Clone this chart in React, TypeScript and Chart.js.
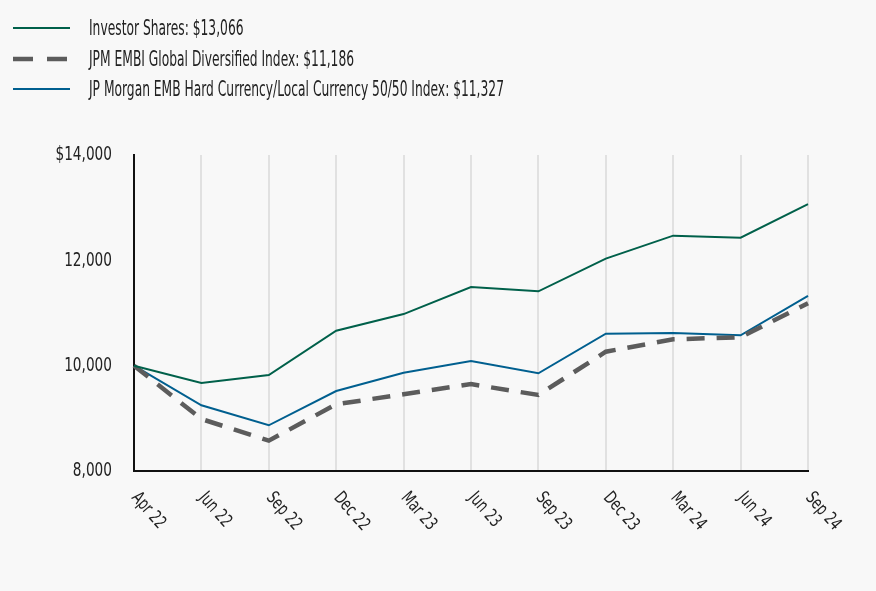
import React, { useEffect, useRef } from "react";
import { Chart, registerables } from "chart.js";

Chart.register(...registerables);

const categories = ["Apr 22", "Jun 22", "Sep 22", "Dec 22", "Mar 23", "Jun 23", "Sep 23", "Dec 23", "Mar 24", "Jun 24", "Sep 24"];
const investorShares = [10000, 9670, 9823, 10664, 10980, 11494, 11412, 12032, 12469, 12430, 13066];
const embiGlobal = [10000, 8987, 8576, 9267, 9457, 9650, 9443, 10265, 10501, 10539, 11186];
const hardLocal = [10000, 9248, 8868, 9519, 9867, 10089, 9855, 10607, 10620, 10577, 11327];
const seriesNames = [
  "Investor Shares: $13,066",
  "JPM EMBI Global Diversified Index: $11,186",
  "JP Morgan EMB Hard Currency/Local Currency 50/50 Index: $11,327",
];
const yTicks = [8000, 10000, 12000, 14000];
const yTickLabels = ["8,000", "10,000", "12,000", "$14,000"];

const FONT = "'Liberation Sans Narrow', 'DejaVu Sans Condensed', 'Roboto Condensed', sans-serif";
const GREEN = "#00604a";
const GRAY = "#5c5c5c";
const BLUE = "#005f8f";
const TEXT = "#222222";

const labelPlugin = {
  id: "labelPlugin",
  afterDraw(chart: any) {
    const { ctx, scales } = chart;
    const xs = scales.x;
    const ys = scales.y;
    const bottom = chart.chartArea.bottom;
    ctx.save();
    ctx.fillStyle = TEXT;
    // x labels, rotated clockwise
    ctx.font = `18px ${FONT}`;
    ctx.textAlign = "left";
    ctx.textBaseline = "alphabetic";
    categories.forEach((lab, i) => {
      const x = xs.getPixelForValue(i);
      ctx.save();
      ctx.translate(x - 3, bottom + 27);
      ctx.rotate((49 * Math.PI) / 180);
      ctx.scale(0.78, 1);
      ctx.fillText(lab, 0, 0);
      ctx.restore();
    });
    // y labels
    ctx.font = `20px ${FONT}`;
    ctx.textAlign = "right";
    ctx.textBaseline = "middle";
    yTicks.forEach((v, i) => {
      const y = ys.getPixelForValue(v);
      ctx.save();
      ctx.translate(112, y);
      ctx.scale(0.76, 1);
      ctx.fillText(yTickLabels[i], 0, 0);
      ctx.restore();
    });
    ctx.restore();
  },
};

function LegendRow({ color, dashed, width, label, top }: any) {
  const w = dashed ? 54 : 57;
  return (
    <div style={{ position: "absolute", left: 13, top: top - 14, height: 28, width: 700 }}>
      <svg width={w} height={8} style={{ position: "absolute", left: 0, top: 10 }}>
        <line
          x1={0}
          y1={4}
          x2={w}
          y2={4}
          stroke={color}
          strokeWidth={width}
          strokeDasharray={dashed ? "20 14" : undefined}
        />
      </svg>
      <span
        style={{
          position: "absolute",
          left: 76,
          top: 0,
          lineHeight: "28px",
          fontFamily: FONT,
          fontSize: 21,
          color: TEXT,
          whiteSpace: "nowrap",
          transform: "scaleX(0.65)",
          transformOrigin: "0 50%",
        }}
      >
        {label}
      </span>
    </div>
  );
}

export default function App() {
  const ref = useRef<HTMLCanvasElement>(null);
  useEffect(() => {
    if (!ref.current) return;
    const chart = new Chart(ref.current, {
      type: "line",
      data: {
        labels: categories,
        datasets: [
          { label: seriesNames[0], data: investorShares, borderColor: GREEN, borderWidth: 2, pointRadius: 0, tension: 0, fill: false },
          { label: seriesNames[1], data: embiGlobal, borderColor: GRAY, borderWidth: 4.5, borderDash: [18, 12], pointRadius: 0, tension: 0, fill: false },
          { label: seriesNames[2], data: hardLocal, borderColor: BLUE, borderWidth: 2, pointRadius: 0, tension: 0, fill: false },
        ],
      },
      options: {
        animation: false,
        responsive: true,
        maintainAspectRatio: false,
        layout: { padding: { top: 155, right: 68, bottom: 0, left: 0 } },
        plugins: { legend: { display: false }, tooltip: { enabled: false } },
        scales: {
          x: {
            afterFit: (s: any) => { s.height = 120; },
            ticks: { display: false },
            grid: {
              drawTicks: false,
              lineWidth: 2,
              color: (c: any) => (c.index === 0 ? "rgba(0,0,0,0)" : "#e1e1e1"),
            },
            border: { display: true, color: "#111", width: 2 },
          },
          y: {
            min: 8000,
            max: 14000,
            afterFit: (s: any) => { s.width = 134; },
            afterBuildTicks: (s: any) => { s.ticks = yTicks.map((v) => ({ value: v })); },
            ticks: { display: false },
            grid: { display: false, drawTicks: false },
            border: { display: true, color: "#111", width: 2 },
          },
        },
      },
      plugins: [labelPlugin],
    });
    return () => chart.destroy();
  }, []);

  return (
    <div style={{ position: "fixed", left: 0, top: 0, width: 876, height: 591, background: "#f8f8f8" }}>
      <div style={{ position: "absolute", left: 0, top: 0, width: 876, height: 591 }}>
        <canvas ref={ref} />
      </div>
      <LegendRow color={GREEN} width={2} label={seriesNames[0]} top={28} />
      <LegendRow color={GRAY} width={4.5} dashed label={seriesNames[1]} top={59} />
      <LegendRow color={BLUE} width={2} label={seriesNames[2]} top={89} />
    </div>
  );
}
